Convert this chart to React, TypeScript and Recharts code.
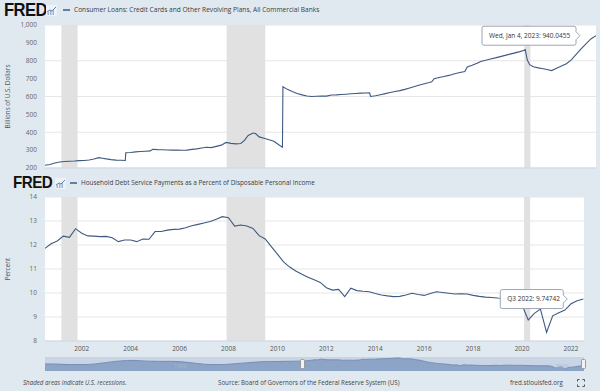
import {
  LineChart,
  Line,
  XAxis,
  YAxis,
  CartesianGrid,
  ReferenceArea,
  ReferenceDot,
  AreaChart,
  Area,
} from "recharts"

// ─── Data ──────────────────────────────────────────────────────────────────────

const recessionStarts = [2001.17, 2007.92, 2020.08]
const recessionEnds = [2001.83, 2009.5, 2020.33]
const yearTicks = [2002, 2004, 2006, 2008, 2010, 2012, 2014, 2016, 2018, 2020, 2022]

// Consumer loans, credit cards (billions of $), sampled from the weekly series
const loanDates = [
  2000.5, 2000.7, 2000.9, 2001.1, 2001.3, 2001.5, 2001.7, 2001.9, 2002.1, 2002.3,
  2002.5, 2002.7, 2002.85, 2003.0, 2003.2, 2003.4, 2003.6, 2003.78, 2003.8, 2004.0,
  2004.2, 2004.4, 2004.6, 2004.8, 2004.9, 2005.1, 2005.3, 2005.5, 2005.7, 2005.9,
  2006.1, 2006.3, 2006.5, 2006.7, 2006.9, 2007.1, 2007.3, 2007.5, 2007.7, 2007.9,
  2008.1, 2008.3, 2008.5, 2008.65, 2008.8, 2009.0, 2009.1, 2009.25, 2009.45, 2009.65,
  2009.85, 2010.05, 2010.2, 2010.22, 2010.4, 2010.6, 2010.8, 2011.0, 2011.2, 2011.4,
  2011.6, 2011.8, 2012.0, 2012.2, 2012.4, 2012.6, 2012.8, 2013.0, 2013.2, 2013.4,
  2013.6, 2013.76, 2013.8, 2014.0, 2014.2, 2014.4, 2014.6, 2014.8, 2015.0, 2015.2,
  2015.4, 2015.6, 2015.8, 2016.0, 2016.2, 2016.3, 2016.4, 2016.6, 2016.8, 2017.0,
  2017.2, 2017.4, 2017.65, 2017.75, 2017.95, 2018.15, 2018.3, 2018.5, 2018.7, 2018.9,
  2019.1, 2019.3, 2019.5, 2019.7, 2019.9, 2020.05, 2020.12, 2020.2, 2020.3, 2020.45,
  2020.65, 2020.85, 2021.05, 2021.2, 2021.4, 2021.6, 2021.8, 2022.0, 2022.2, 2022.4,
  2022.6, 2022.8, 2023.01,
]
const loanValues = [
  215, 220, 228, 234, 236, 238, 239, 241, 242, 245,
  250, 258, 255, 251, 247, 244, 243, 242, 285, 287,
  290, 292, 294, 296, 305, 303, 302, 301, 300, 300,
  299, 300, 304, 307, 312, 316, 314, 321, 328, 343,
  338, 335, 337, 355, 382, 396, 393, 374, 366, 358,
  350, 330, 316, 655, 640, 628, 617, 609, 603, 600,
  601, 602, 602, 608, 609, 611, 613, 615, 617, 619,
  620, 621, 600, 604, 610, 616, 622, 628, 633, 640,
  648, 656, 664, 671, 678, 682, 700, 706, 712, 718,
  726, 733, 740, 765, 775, 786, 796, 803, 810, 816,
  823, 830, 837, 844, 851, 857, 862, 805, 778, 766,
  760, 755, 750, 745, 758, 770, 783, 805, 835, 866,
  895, 922, 940.0455,
]
const loanTicks = [200, 300, 400, 500, 600, 700, 800, 900, 1000]

// Household debt service ratio (%), quarterly from 2000 Q3 to 2022 Q3
const dsrStart = 2000.5
const dsrValues = [
  11.86, 12.05, 12.17, 12.37, 12.32, 12.68, 12.49, 12.38, 12.37, 12.35,
  12.36, 12.3, 12.14, 12.21, 12.21, 12.14, 12.25, 12.24, 12.56, 12.56,
  12.62, 12.65, 12.66, 12.72, 12.8, 12.86, 12.92, 12.98, 13.07, 13.18,
  13.14, 12.79, 12.83, 12.79, 12.69, 12.39, 12.25, 11.93, 11.62, 11.3,
  11.08, 10.92, 10.78, 10.66, 10.55, 10.44, 10.22, 10.12, 10.15, 9.85,
  10.2, 10.1, 10.07, 10.05, 9.98, 9.92, 9.88, 9.85, 9.86, 9.92,
  9.99, 9.94, 9.9, 9.98, 10.05, 10.02, 9.99, 9.96, 9.97, 9.96,
  9.9, 9.86, 9.83, 9.81, 9.79, 9.78, 9.77, 9.72, 9.5, 8.88,
  9.15, 9.33, 8.36, 9.05, 9.18, 9.29, 9.55, 9.68, 9.74742,
]
const dsrTicks = [8, 9, 10, 11, 12, 13, 14]

// Navigator history before the visible window (annual)
const navYears = [
  1980, 1981, 1982, 1983, 1984, 1985, 1986, 1987, 1988, 1989,
  1990, 1991, 1992, 1993, 1994, 1995, 1996, 1997, 1998, 1999,
]
const navValues = [
  10.6, 10.5, 10.3, 10.3, 10.6, 11.3, 11.9, 12.1, 11.8, 11.7,
  11.7, 11.4, 10.8, 10.3, 10.3, 10.7, 11.1, 11.5, 11.6, 11.7,
]

const loanData = loanDates.map((x, i) => ({ x, v: loanValues[i] }))
const dsrData = dsrValues.map((v, i) => ({ x: dsrStart + i * 0.25, v }))
const navData = [...navYears.map((x, i) => ({ x, v: navValues[i] })), ...dsrData]

// ─── Styling ───────────────────────────────────────────────────────────────────

const bg = "#e1e9f0"
const lineColor = "#3f5a80"
const gridColor = "#e6e6e6"
const recessionFill = "#e1e1e1"
const axisColor = "#ccd6eb"
const fontFamily = '"Open Sans", sans-serif'

// ─── Pieces ────────────────────────────────────────────────────────────────────

function TipShape({ cx, cy, text, width }: { cx?: number; cy?: number; text: string; width: number }) {
  if (cx == null || cy == null) return <g />
  const h = 19
  const x1 = cx - 20
  const x0 = x1 - width
  const y0 = cy - h / 2
  const d =
    `M${x0 + 2},${y0} H${x1 - 2} Q${x1},${y0} ${x1},${y0 + 2} V${cy - 4} L${x1 + 4},${cy} ` +
    `L${x1},${cy + 4} V${y0 + h - 2} Q${x1},${y0 + h} ${x1 - 2},${y0 + h} H${x0 + 2} ` +
    `Q${x0},${y0 + h} ${x0},${y0 + h - 2} V${y0 + 2} Q${x0},${y0} ${x0 + 2},${y0} Z`
  return (
    <g>
      <path d={d} fill="rgba(255,255,255,0.95)" stroke="#9ba6b3" strokeWidth={1} />
      <text x={x0 + 7} y={cy} dy="0.35em" fontSize={6.5} fill="#333" fontFamily={fontFamily}>
        {text}
      </text>
    </g>
  )
}

function FredHeader({ top, logoLeft, size, markerLeft, title, titleSize }: {
  top: number
  logoLeft: number
  size: number
  markerLeft: number
  title: string
  titleSize: number
}) {
  return (
    <>
      <div
        style={{
          position: "absolute", left: logoLeft, top, fontFamily: '"Liberation Sans", Arial, sans-serif',
          fontWeight: 900, fontSize: size, lineHeight: 1, letterSpacing: -0.6, color: "#111",
          transform: "scaleX(0.92)", transformOrigin: "left top",
        }}
      >
        FRED
      </div>
      <svg
        width={11} height={11}
        style={{ position: "absolute", left: logoLeft + 42, top: top + 4 }}
      >
        <rect x={0} y={0} width={11} height={11} rx={1} fill="#eef2f6" />
        <rect x={1.5} y={7} width={1.5} height={3} fill="#9db3d0" />
        <rect x={4} y={6} width={1.5} height={4} fill="#9db3d0" />
        <rect x={6.5} y={5} width={1.5} height={5} fill="#9db3d0" />
        <polyline points="1,7 4,5 6,6 10,2" fill="none" stroke="#5b7fb0" strokeWidth={1} />
      </svg>
      <div
        style={{
          position: "absolute", left: markerLeft, top: top + 8, width: 7, height: 1.5,
          background: "#5f7ea8",
        }}
      />
      <div
        style={{
          position: "absolute", left: markerLeft + 11, top: top + 4, fontFamily, fontSize: titleSize,
          color: "#3a3a3a", whiteSpace: "nowrap", lineHeight: "9px",
        }}
      >
        {title}
      </div>
    </>
  )
}

// ─── App ───────────────────────────────────────────────────────────────────────

export default function App() {
  return (
    <div
      style={{
        position: "absolute", left: 0, top: 0, width: 600, height: 391, background: bg,
        overflow: "hidden", fontFamily,
      }}
    >
      {/* Top chart: consumer loans */}
      <div style={{ position: "absolute", left: 0, top: 0 }}>
        <LineChart width={600} height={175} data={loanData} margin={{ top: 25, right: 4, bottom: 0, left: 0 }}>
          <CartesianGrid vertical={false} stroke={gridColor} fill="#ffffff" />
          <XAxis
            type="number"
            dataKey="x"
            domain={[2000.5, 2023.01]}
            ticks={yearTicks}
            tick={false}
            height={7}
            tickSize={5}
            axisLine={{ stroke: axisColor }}
            tickLine={{ stroke: axisColor }}
            allowDataOverflow
          />
          <YAxis
            domain={[200, 1000]}
            ticks={loanTicks}
            width={45}
            axisLine={false}
            tickLine={false}
            tick={{ fontSize: 6.5, fill: "#666", fontFamily }}
            tickFormatter={(v) => Number(v).toLocaleString("en-US")}
            label={{
              value: "Billions of U.S. Dollars", angle: -90, position: "insideLeft", offset: 8,
              style: { fontSize: 6.3, fill: "#555", textAnchor: "middle", fontFamily },
            }}
          />
          {recessionStarts.map((s, i) => (
            <ReferenceArea key={s} x1={s} x2={recessionEnds[i]} fill={recessionFill} fillOpacity={1} strokeOpacity={0} />
          ))}
          <Line
            type="linear"
            dataKey="v"
            stroke={lineColor}
            strokeWidth={1.1}
            dot={false}
            isAnimationActive={false}
          />
          <ReferenceDot
            x={loanDates[loanDates.length - 1]}
            y={loanValues[loanValues.length - 1]}
            shape={(p: { cx?: number; cy?: number }) => (
              <TipShape cx={p.cx} cy={p.cy} width={94} text="Wed, Jan 4, 2023: 940.0455" />
            )}
          />
        </LineChart>
      </div>

      <FredHeader
        top={1}
        logoLeft={4}
        size={18}
        markerLeft={63}
        titleSize={6.6}
        title="Consumer Loans: Credit Cards and Other Revolving Plans, All Commercial Banks"
      />

      {/* Bottom chart: debt service ratio */}
      <div style={{ position: "absolute", left: 0, top: 172 }}>
        <LineChart width={600} height={190} data={dsrData} margin={{ top: 25, right: 16, bottom: 0, left: 0 }}>
          <CartesianGrid vertical={false} stroke={gridColor} fill="#ffffff" />
          <XAxis
            type="number"
            dataKey="x"
            domain={[2000.5, 2022.53]}
            ticks={yearTicks}
            height={21}
            tickSize={0}
            tickMargin={5}
            axisLine={{ stroke: axisColor }}
            tickLine={false}
            tick={{ fontSize: 6.5, fill: "#555", fontFamily }}
            allowDataOverflow
          />
          <YAxis
            domain={[8, 14]}
            ticks={dsrTicks}
            width={45}
            axisLine={false}
            tickLine={false}
            tick={{ fontSize: 6.5, fill: "#666", fontFamily }}
            label={{
              value: "Percent", angle: -90, position: "insideLeft", offset: 8,
              style: { fontSize: 6.3, fill: "#555", textAnchor: "middle", fontFamily },
            }}
          />
          {recessionStarts.map((s, i) => (
            <ReferenceArea key={s} x1={s} x2={recessionEnds[i]} fill={recessionFill} fillOpacity={1} strokeOpacity={0} />
          ))}
          <Line
            type="linear"
            dataKey="v"
            stroke={lineColor}
            strokeWidth={1.1}
            dot={false}
            isAnimationActive={false}
          />
          <ReferenceDot
            x={dsrData[dsrData.length - 1].x}
            y={dsrValues[dsrValues.length - 1]}
            shape={(p: { cx?: number; cy?: number }) => (
              <TipShape cx={p.cx} cy={p.cy} width={63} text="Q3 2022: 9.74742" />
            )}
          />
        </LineChart>
      </div>

      <FredHeader
        top={174}
        logoLeft={13}
        size={16.5}
        markerLeft={70}
        titleSize={6.4}
        title="Household Debt Service Payments as a Percent of Disposable Personal Income"
      />

      {/* Navigator */}
      <div style={{ position: "absolute", left: 45, top: 357, width: 539, height: 14, background: "#c9d4e5" }}>
        <AreaChart width={539} height={14} data={navData} margin={{ top: 0, right: 0, bottom: 0, left: 0 }}>
          <XAxis hide type="number" dataKey="x" domain={[1980, 2022.5]} />
          <YAxis hide domain={[7.5, 13.6]} allowDataOverflow />
          <Area
            type="monotone"
            dataKey="v"
            stroke="#7590b8"
            strokeWidth={1}
            fill="#8ca4c6"
            fillOpacity={1}
            isAnimationActive={false}
          />
        </AreaChart>
      </div>
      <div style={{ position: "absolute", left: 174, top: 362, fontSize: 5.5, color: "#a8b9d3", fontFamily }}>1990</div>
      <div style={{ position: "absolute", left: 555, top: 362, fontSize: 5.5, color: "#a8b9d3", fontFamily }}>2020</div>
      {[300, 581].map((x) => (
        <div
          key={x}
          style={{
            position: "absolute", left: x, top: 359, width: 5, height: 10, background: "#f2f2f2",
            border: "1px solid #999", borderRadius: 1.5, boxSizing: "border-box",
          }}
        />
      ))}

      {/* Footer */}
      <div style={{ position: "absolute", left: 23, top: 378, fontSize: 6.2, fontStyle: "italic", color: "#444", whiteSpace: "nowrap" }}>
        Shaded areas indicate U.S. recessions.
      </div>
      <div style={{ position: "absolute", left: 218, top: 378, fontSize: 6.2, color: "#444", whiteSpace: "nowrap" }}>
        Source: Board of Governors of the Federal Reserve System (US)
      </div>
      <div style={{ position: "absolute", left: 510, top: 378, fontSize: 6.2, color: "#444", whiteSpace: "nowrap" }}>
        fred.stlouisfed.org
      </div>
      <svg width={8} height={8} style={{ position: "absolute", left: 577, top: 379 }}>
        <path
          d="M0.5,2.5 V0.5 H2.5 M5.5,0.5 H7.5 V2.5 M7.5,5.5 V7.5 H5.5 M2.5,7.5 H0.5 V5.5"
          fill="none"
          stroke="#555"
          strokeWidth={1}
        />
      </svg>
    </div>
  )
}
